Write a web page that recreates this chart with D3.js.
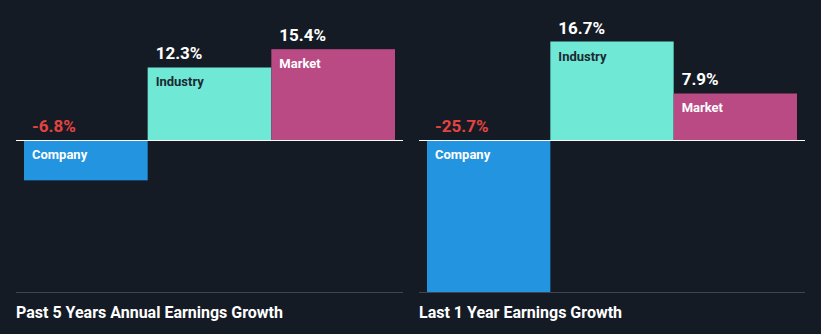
<!DOCTYPE html>
<html>
<head>
<meta charset="utf-8">
<script src="https://cdn.jsdelivr.net/npm/d3@7"></script>
<style>
  html, body { margin: 0; padding: 0; background: #151b25; }
  svg { display: block; }
  text { font-family: Roboto, "Noto Sans", sans-serif; font-weight: 700; }
</style>
</head>
<body>
<svg id="chart" width="821" height="334"></svg>
<script>
// Earnings growth comparison: company vs industry vs market
const categories = ["Company", "Industry", "Market"];
const panelTitles = ["Past 5 Years Annual Earnings Growth", "Last 1 Year Earnings Growth"];
const past5Years = [-6.8, 12.3, 15.4];
const last1Year = [-25.7, 16.7, 7.9];

const barColors = { Company: "#2394df", Industry: "#6fe8d5", Market: "#b94a84" };
const nameColors = { Company: "#ffffff", Industry: "#1c2a33", Market: "#ffffff" };

const W = 821, H = 334;
const svg = d3.select("#chart");
svg.append("rect").attr("width", W).attr("height", H).attr("fill", "#151b25");

const panels = [
  { title: panelTitles[0], values: past5Years, x0: 16, x1: 403 },
  { title: panelTitles[1], values: last1Year, x0: 419, x1: 805 }
];

// one value scale shared by both panels
const allVals = past5Years.concat(last1Year);
const y = d3.scaleLinear()
  .domain([d3.min(allVals), d3.max(allVals)])
  .range([292, 41.5]);

// plain hyphen for negatives
const fmt = v => (v < 0 ? "-" : "") + Math.abs(v).toFixed(1) + "%";

panels.forEach(p => {
  const g = svg.append("g");
  const x = d3.scaleBand().domain(categories).range([p.x0 + 8, p.x1 - 8]).padding(0);
  const data = categories.map((c, i) => ({ cat: c, v: p.values[i] }));

  g.selectAll("rect.bar").data(data).enter().append("rect")
    .attr("class", "bar")
    .attr("x", d => x(d.cat))
    .attr("width", x.bandwidth())
    .attr("y", d => Math.min(y(d.v), y(0)))
    .attr("height", d => Math.abs(y(d.v) - y(0)))
    .attr("fill", d => barColors[d.cat]);

  // zero line
  g.append("line")
    .attr("x1", p.x0).attr("x2", p.x1)
    .attr("y1", Math.round(y(0)) + 0.5).attr("y2", Math.round(y(0)) + 0.5)
    .attr("stroke", "#ffffff").attr("stroke-width", 1.2);

  // value labels above the bar (or above the zero line for negatives)
  g.selectAll("text.val").data(data).enter().append("text")
    .attr("class", "val")
    .attr("x", d => x(d.cat) + 8)
    .attr("y", d => (d.v >= 0 ? y(d.v) : y(0)) - 8)
    .attr("font-size", 17)
    .attr("fill", d => d.v >= 0 ? "#ffffff" : "#e5433f")
    .text(d => fmt(d.v));

  // category names inside the bars
  g.selectAll("text.cat").data(data).enter().append("text")
    .attr("class", "cat")
    .attr("x", d => x(d.cat) + 8)
    .attr("y", d => (d.v >= 0 ? y(d.v) : y(0)) + 19)
    .attr("font-size", 13)
    .attr("fill", d => nameColors[d.cat])
    .text(d => d.cat);

  // bottom separator and title
  g.append("line")
    .attr("x1", p.x0).attr("x2", p.x1)
    .attr("y1", 292.5).attr("y2", 292.5)
    .attr("stroke", "#40444c").attr("stroke-width", 1);

  g.append("text")
    .attr("x", p.x0)
    .attr("y", 318)
    .attr("font-size", 16)
    .attr("fill", "#ffffff")
    .text(p.title);
});
</script>
</body>
</html>
